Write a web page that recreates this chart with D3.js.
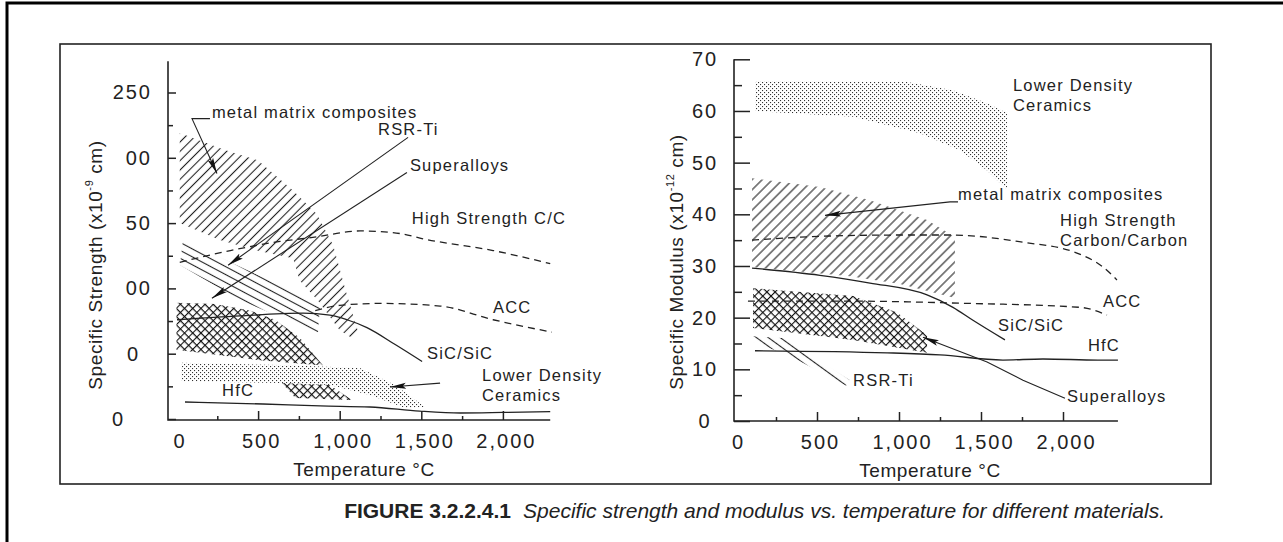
<!DOCTYPE html>
<html>
<head>
<meta charset="utf-8">
<script src="https://cdn.jsdelivr.net/npm/d3@7"></script>
<style>
  body { margin: 0; background: #fff; }
  text { font-family: "Liberation Sans", Arial, sans-serif; fill: #222; }
  .tick text { font-size: 20px; letter-spacing: 2px; }
  .note { font-size: 16.5px; letter-spacing: 1.2px; }
  .title { font-size: 19px; letter-spacing: 0.6px; }
</style>
</head>
<body>
<svg id="fig" width="1283" height="542"></svg>
<script>
// ---- shared axis values ----
var tempTicks = [0, 500, 1000, 1500, 2000];
var tempTickLabels = ['0', '500', '1,000', '1,500', '2,000'];
var tempMinor = [250, 750, 1250, 1750];

// ---- left panel: specific strength (x10^-9 cm) vs temperature ----
var strTicks = [0, 50, 100, 150, 200, 250];
var strTickLabels = ['0', '0', '00', '50', '00', '250'];   // as printed, leading digits lost
var strMinor = [25, 75, 125, 175, 225];

// regions as [temperature, value]
var strMetalMatrix = [[20, 219], [297, 206], [500, 198], [714, 175], [860, 157], [960, 133], [1035, 99],
    [1110, 68], [1075, 62], [1000, 68], [865, 91], [755, 106], [714, 123], [493, 129], [266, 137], [20, 150]];
var strRsrTi = [[40, 137], [880, 88], [867, 66], [389, 91], [21, 118]];
var strSuperalloys = [[0, 89], [236, 88], [450, 83], [604, 76], [757, 62], [898, 41], [512, 45], [0, 53]];
var strSuperalloysLow = [[646, 27.5], [940, 26], [1075, 14.5], [728, 16]];
var strLowerDensity = [[28, 43], [634, 41.3], [1124, 39], [1339, 26], [1523, 9.2], [1400, 8.4],
    [1185, 18.3], [940, 26], [634, 27.5], [28, 29]];
var strHfC = [[52, 13], [530, 11.5], [880, 10], [1185, 9.2], [1490, 6], [1740, 4.6], [2000, 5], [2290, 5.6]];
var strSiC = [[3, 76], [390, 79], [775, 81], [940, 79.5], [1045, 76], [1167, 70], [1340, 57], [1505, 44]];
var strHighCC = [[20, 120], [330, 129], [635, 136], [835, 139], [1125, 144], [1370, 142], [1510, 138], [1940, 129], [2290, 119]];
var strACC = [[850, 83], [1000, 87], [1250, 88.5], [1615, 86.5], [1940, 76], [2300, 66.5]];

var strLabels = [
  ['metal matrix composites', 217, 234.7], ['RSR-Ti', 1235, 221.6], ['Superalloys', 1430, 194],
  ['High Strength C/C', 1442, 153.7], ['ACC', 1939, 85.6], ['SiC/SiC', 1535, 50.5],
  ['Lower Density', 1872, 33.6], ['Ceramics', 1872, 18.3], ['HfC', 279, 22.2]
];
var strLeaders = [
  {pts: [[205, 230], [95, 230], [248, 188]], arrow: true},
  {pts: [[1419, 215.6], [316, 117.7]], arrow: true},
  {pts: [[1412, 188.8], [217, 92.5]], arrow: true},
  {pts: [[1615, 27.5], [1308, 24.5]], arrow: true}
];

// ---- right panel: specific modulus (x10^-12 cm) vs temperature ----
var modTicks = [0, 10, 20, 30, 40, 50, 60, 70];
var modTickLabels = ['0', '10', '20', '30', '40', '50', '60', '70'];
var modMinor = [5, 15, 25, 35, 45, 55, 65];

var modLowerDensity = [[122, 65.8], [1049, 65.6], [1329, 64], [1537, 61.5], [1659, 59.6], [1659, 44.7],
    [1616, 46], [1537, 48.5], [1372, 52.4], [1128, 55.7], [720, 58.9], [122, 60]];
var modMetalMatrix = [[104, 47], [518, 45.3], [823, 42.7], [1171, 38.9], [1341, 35.6], [1341, 23.8],
    [1006, 26.5], [701, 28], [104, 29.8]];
var modSuperalloys = [[110, 25.7], [720, 24.2], [988, 21], [1171, 16.6], [1171, 13.2], [720, 15.7], [110, 18]];
var modRsrTi = [[110, 16.4], [305, 16], [701, 7.9], [677, 6.8], [335, 12.6], [110, 15.3]];
var modHighCC = [[104, 35], [579, 35.8], [1049, 36], [1311, 36], [1756, 34.6], [2085, 32.5], [2244, 29.8], [2329, 27.3]];
var modACC = [[79, 23.2], [701, 23.2], [1372, 22.8], [2104, 22], [2268, 20.5]];
var modSiC = [[104, 29.6], [518, 28.2], [823, 26.7], [1171, 24.4], [1329, 22], [1451, 19.5], [1646, 15.7]];
var modHfC = [[122, 13.6], [927, 13.2], [1250, 12.8], [1634, 11.8], [1878, 12], [2213, 11.8], [2335, 11.8]];

var modLabels = [
  ['Lower Density', 1695, 65], ['Ceramics', 1695, 61.1], ['metal matrix composites', 1360, 43.9],
  ['High Strength', 1982, 38.9], ['Carbon/Carbon', 1982, 35], ['ACC', 2244, 23.2],
  ['SiC/SiC', 1604, 18.6], ['HfC', 2152, 14.7], ['Superalloys', 2024, 4.8], ['RSR-Ti', 720, 7.9]
];
var modLeaders = [
  {pts: [[1360, 42.4], [1311, 42.4], [549, 39.8]], arrow: true},
  {pts: [[2012, 4.4], [1756, 7.9], [1537, 11.4], [1146, 16.2]], arrow: true}
];

var svg = d3.select('#fig');
var defs = svg.append('defs');

// fill patterns
function linePattern(id, size, angle, width) {
    var p = defs.append('pattern').attr('id', id)
        .attr('patternUnits', 'userSpaceOnUse')
        .attr('width', size).attr('height', size)
        .attr('patternTransform', 'rotate(' + angle + ')');
    p.append('line').attr('x1', 0).attr('y1', size / 2).attr('x2', size).attr('y2', size / 2)
        .attr('stroke', '#222').attr('stroke-width', width);
}
linePattern('hatchL', 6.6, -45, 1.1);
linePattern('hatchR', 7.2, -45, 1.1);
linePattern('rsr', 7, 28, 1.1);
linePattern('rsrR', 7, 36, 1.1);

var cross = defs.append('pattern').attr('id', 'cross')
    .attr('patternUnits', 'userSpaceOnUse').attr('width', 5.8).attr('height', 5.8)
    .attr('patternTransform', 'rotate(45)');
cross.append('path').attr('d', 'M0,0.5H5.8M0.5,0V5.8')
    .attr('stroke', '#111').attr('stroke-width', 1.2);

var dots = defs.append('pattern').attr('id', 'dots')
    .attr('patternUnits', 'userSpaceOnUse').attr('width', 4).attr('height', 4);
dots.append('rect').attr('x', 0).attr('y', 0).attr('width', 1.1).attr('height', 1.1).attr('fill', '#333');
dots.append('rect').attr('x', 2).attr('y', 2).attr('width', 1.1).attr('height', 1.1).attr('fill', '#333');

defs.append('marker').attr('id', 'arrow')
    .attr('markerUnits', 'userSpaceOnUse')
    .attr('markerWidth', 18).attr('markerHeight', 10)
    .attr('refX', 16).attr('refY', 5).attr('orient', 'auto')
  .append('path').attr('d', 'M0,2 L16,5 L0,8 L3,5 Z').attr('fill', '#111');

// frames
svg.append('rect').attr('x', 7).attr('y', 3).attr('width', 1300).attr('height', 600)
    .attr('fill', 'none').attr('stroke', '#000').attr('stroke-width', 3);
svg.append('rect').attr('x', 60).attr('y', 44).attr('width', 1151).attr('height', 440)
    .attr('fill', 'none').attr('stroke', '#222').attr('stroke-width', 1.6);

function drawPanel(cfg) {
    var g = svg.append('g');
    var x = d3.scaleLinear().domain([0, 2000]).range(cfg.xRange),
        y = d3.scaleLinear().domain(cfg.yDomain).range(cfg.yRange);

    var area = d3.line().x(function(d) { return x(d[0]); }).y(function(d) { return y(d[1]); })
        .curve(d3.curveLinearClosed);
    var curve = d3.line().x(function(d) { return x(d[0]); }).y(function(d) { return y(d[1]); })
        .curve(d3.curveMonotoneX);
    var poly = d3.line().x(function(d) { return x(d[0]); }).y(function(d) { return y(d[1]); });

    cfg.regions.forEach(function(r) {
        g.append('path').attr('d', area(r.data)).attr('fill', 'url(#' + r.fill + ')');
    });

    cfg.lines.forEach(function(l) {
        g.append('path').attr('d', curve(l.data)).attr('fill', 'none')
            .attr('stroke', '#222').attr('stroke-width', 1.3)
            .attr('stroke-dasharray', l.dashed ? '7,5' : null);
    });

    cfg.leaders.forEach(function(l) {
        g.append('path').attr('d', poly(l.pts)).attr('fill', 'none')
            .attr('stroke', '#222').attr('stroke-width', 1.1)
            .attr('marker-end', l.arrow ? 'url(#arrow)' : null);
    });

    g.selectAll('text.note').data(cfg.labels).enter().append('text')
        .attr('class', 'note')
        .attr('x', function(d) { return x(d[1]); })
        .attr('y', function(d) { return y(d[2]); })
        .attr('dy', '0.35em')
        .text(function(d) { return d[0]; });

    // axis lines
    var x0 = cfg.axisCorner[0], y0 = cfg.axisCorner[1];
    g.append('path')
        .attr('d', 'M' + x0 + ',' + y(cfg.yAxisTop) + 'V' + y0 + 'H' + x(cfg.xAxisEnd))
        .attr('fill', 'none').attr('stroke', '#222').attr('stroke-width', 1.6);

    // y ticks (inward)
    var yAxis = g.append('g').attr('transform', 'translate(' + x0 + ',0)')
        .call(d3.axisLeft(y).tickValues(cfg.yTicks).tickSize(-cfg.yMajor).tickPadding(cfg.yPad)
            .tickFormat(function(d, i) { return cfg.yTickLabels[i]; }));
    yAxis.select('.domain').remove();
    yAxis.selectAll('.tick text').attr('text-anchor', cfg.yAnchor)
        .attr('dx', function(d) { return cfg.yShift[d] || 0; });
    var yMinor = g.append('g').attr('transform', 'translate(' + x0 + ',0)')
        .call(d3.axisLeft(y).tickValues(cfg.yMinor).tickSize(-cfg.yMinorLen).tickFormat(''));
    yMinor.select('.domain').remove();

    // x ticks (inward)
    var xAxis = g.append('g').attr('transform', 'translate(0,' + y0 + ')')
        .call(d3.axisBottom(x).tickValues(tempTicks).tickSize(-9).tickPadding(14)
            .tickFormat(function(d, i) { return tempTickLabels[i]; }));
    xAxis.select('.domain').remove();
    xAxis.selectAll('.tick').filter(function(d) { return d === 0; }).select('line').remove();
    xAxis.selectAll('.tick text').attr('dx', 3);
    var xMinor = g.append('g').attr('transform', 'translate(0,' + y0 + ')')
        .call(d3.axisBottom(x).tickValues(tempMinor).tickSize(-4).tickFormat(''));
    xMinor.select('.domain').remove();

    g.selectAll('.tick line').attr('stroke', '#222').attr('stroke-width', 1.5);
    g.selectAll('.tick text').attr('fill', '#222').style('font-family', null);

    // axis titles
    var yt = g.append('text').attr('class', 'title').attr('text-anchor', 'middle')
        .attr('transform', 'translate(' + cfg.yTitlePos[0] + ',' + cfg.yTitlePos[1] + ') rotate(-90)')
        .attr('dy', '0.35em');
    yt.append('tspan').text(cfg.yTitle[0]);
    yt.append('tspan').attr('font-size', '11px').attr('dy', '-0.75em').text(cfg.yTitle[1]);
    yt.append('tspan').attr('dy', '0.45em').text(cfg.yTitle[2]);

    g.append('text').attr('class', 'title').attr('text-anchor', 'middle')
        .attr('x', cfg.xTitlePos[0]).attr('y', cfg.xTitlePos[1])
        .text('Temperature \u00B0C');
}

drawPanel({
    xRange: [176.5, 502.9], yDomain: [0, 250], yRange: [419, 92.5],
    axisCorner: [168, 420], yAxisTop: 274, xAxisEnd: 2290,
    yTicks: strTicks, yTickLabels: strTickLabels, yMinor: strMinor,
    yMajor: 8, yMinorLen: 5, yPad: 16, yAnchor: 'end', yShift: {50: -12, 0: -27},
    regions: [
        {data: strLowerDensity, fill: 'dots'},
        {data: strMetalMatrix, fill: 'hatchL'},
        {data: strRsrTi, fill: 'rsr'},
        {data: strSuperalloys, fill: 'cross'},
        {data: strSuperalloysLow, fill: 'cross'}
    ],
    lines: [
        {data: strHfC}, {data: strSiC},
        {data: strHighCC, dashed: true}, {data: strACC, dashed: true}
    ],
    leaders: strLeaders, labels: strLabels,
    yTitle: ['Specific Strength (x10', '-9', ' cm)'], yTitlePos: [95, 265],
    xTitlePos: [364, 476]
});

drawPanel({
    xRange: [735, 1063], yDomain: [0, 70], yRange: [421, 59.3],
    axisCorner: [734, 421], yAxisTop: 70, xAxisEnd: 2335,
    yTicks: modTicks, yTickLabels: modTickLabels, yMinor: modMinor,
    yMajor: 16, yMinorLen: 8, yPad: 29, yAnchor: 'middle', yShift: {},
    regions: [
        {data: modLowerDensity, fill: 'dots'},
        {data: modMetalMatrix, fill: 'hatchR'},
        {data: modSuperalloys, fill: 'cross'},
        {data: modRsrTi, fill: 'rsrR'}
    ],
    lines: [
        {data: modHfC}, {data: modSiC},
        {data: modHighCC, dashed: true}, {data: modACC, dashed: true}
    ],
    leaders: modLeaders, labels: modLabels,
    yTitle: ['Specific Modulus (x10', '-12', ' cm)'], yTitlePos: [676, 262],
    xTitlePos: [930, 477]
});

// caption
var cap = svg.append('text').attr('x', 1165).attr('y', 518).attr('text-anchor', 'end')
    .style('font-size', '21px').attr('fill', '#000');
cap.append('tspan').attr('font-weight', 'bold').text('FIGURE 3.2.2.4.1');
cap.append('tspan').attr('font-style', 'italic').attr('dx', 12)
    .text('Specific strength and modulus vs. temperature for different materials.');
</script>
</body>
</html>
